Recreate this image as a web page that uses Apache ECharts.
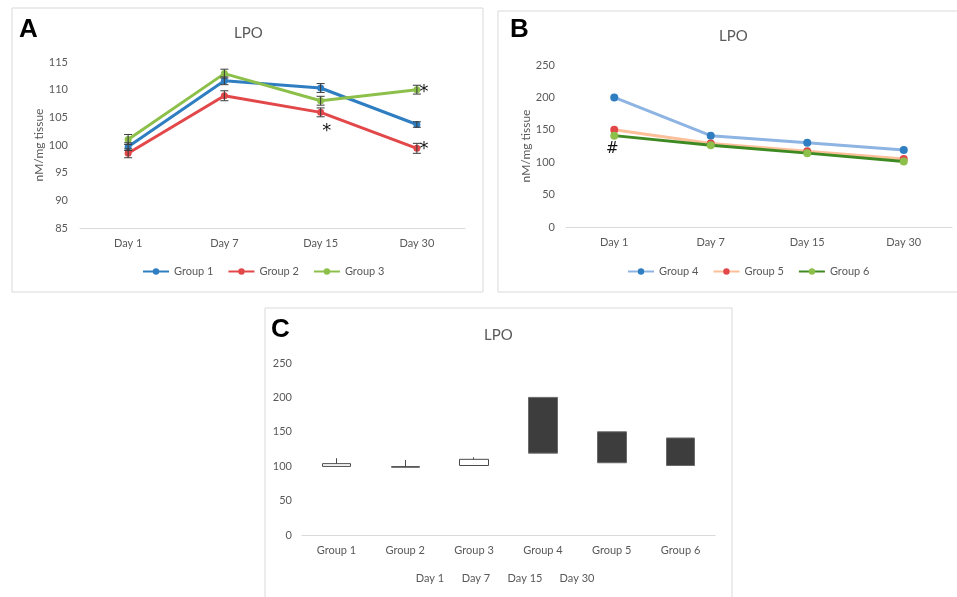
<!DOCTYPE html>
<html>
<head>
<meta charset="utf-8">
<script src="https://cdn.jsdelivr.net/npm/echarts@6/dist/echarts.min.js"></script>
<style>
html,body{margin:0;padding:0;background:#fff;}
#chart{width:957px;height:597px;}
</style>
</head>
<body>
<div id="chart"></div>
<script>
// ---- data ----
const days = ['Day 1', 'Day 7', 'Day 15', 'Day 30'];
const groupsC = ['Group 1', 'Group 2', 'Group 3', 'Group 4', 'Group 5', 'Group 6'];

const group1 = [99.7, 111.6, 110.3, 103.7];
const group1Err = [0.7, 0.7, 0.8, 0.5];
const group2 = [98.5, 108.9, 105.9, 99.4];
const group2Err = [0.8, 0.9, 0.8, 0.9];
const group3 = [101.0, 112.9, 108.0, 110.0];
const group3Err = [0.9, 0.8, 0.8, 0.8];

const group4 = [200, 141, 130, 119];
const group5 = [150, 129, 117, 105];
const group6 = [141, 126, 114, 101];

const axisA = { min: 85, max: 115, interval: 5 };
const axisB = { min: 0, max: 250, interval: 50 };
const axisC = { min: 0, max: 250, interval: 50 };

const titleText = 'LPO';
const yName = 'nM/mg tissue';
// ---------------

const FONT = 'Lato, "Open Sans", sans-serif';
const GREY = '#595959';

const colA = ['#2f7ec1', '#e2474a', '#8dc04b'];
const lineB = ['#8db4e2', '#fbbf99', '#3e8a22'];
const markB = ['#2f7ec1', '#e2474a', '#8dc04b'];

const allGroups = [group1, group2, group3, group4, group5, group6];
const candleData = allGroups.map(g => [g[0], g[3], Math.min(...g), Math.max(...g)]);

function errSeries(vals, errs, name) {
  return {
    type: 'custom', xAxisIndex: 0, yAxisIndex: 0, z: 5, silent: true,
    name: name + ' err',
    data: vals.map((v, i) => [i, v - errs[i], v + errs[i]]),
    renderItem: function (params, api) {
      const lo = api.coord([api.value(0), api.value(1)]);
      const hi = api.coord([api.value(0), api.value(2)]);
      const w = 4;
      const st = { stroke: '#3a3a3a', lineWidth: 1 };
      return {
        type: 'group',
        children: [
          { type: 'line', shape: { x1: lo[0], y1: lo[1], x2: hi[0], y2: hi[1] }, style: st },
          { type: 'line', shape: { x1: lo[0] - w, y1: lo[1], x2: lo[0] + w, y2: lo[1] }, style: st },
          { type: 'line', shape: { x1: hi[0] - w, y1: hi[1], x2: hi[0] + w, y2: hi[1] }, style: st }
        ]
      };
    }
  };
}

const markLabel = (txt, coord, offset, size) => ({
  coord: coord, symbol: 'circle', symbolSize: 2,
  itemStyle: { color: 'rgba(0,0,0,0)' },
  label: { show: true, position: 'inside', formatter: txt, color: '#111', fontSize: size,
           fontFamily: '"DejaVu Sans", sans-serif', offset: offset }
});

const axisLabelStyle = { color: GREY, fontSize: 11, fontFamily: FONT };

const chart = echarts.init(document.getElementById('chart'), null, { renderer: 'canvas' });

const option = {
  backgroundColor: '#fff',
  animation: false,
  textStyle: { fontFamily: FONT },
  graphic: [
    { type: 'rect', shape: { x: 12, y: 8, width: 471, height: 284 }, style: { fill: '#fff', stroke: '#d9d9d9', lineWidth: 1 }, z: -10 },
    { type: 'rect', shape: { x: 498, y: 11, width: 480, height: 281 }, style: { fill: '#fff', stroke: '#d9d9d9', lineWidth: 1 }, z: -10 },
    { type: 'rect', shape: { x: 265, y: 308, width: 467, height: 300 }, style: { fill: '#fff', stroke: '#d9d9d9', lineWidth: 1 }, z: -10 },
    { type: 'text', left: 19, top: 17, style: { text: 'A', font: 'bold 26px "Liberation Sans", Arial, sans-serif', fill: '#000' } },
    { type: 'text', left: 510, top: 17, style: { text: 'B', font: 'bold 26px "Liberation Sans", Arial, sans-serif', fill: '#000' } },
    { type: 'text', left: 271, top: 317, style: { text: 'C', font: 'bold 26px "Liberation Sans", Arial, sans-serif', fill: '#000' } },
    { type: 'text', x: 430, y: 578, style: { text: days[0], fill: GREY, font: '11px ' + FONT, align: 'center', verticalAlign: 'middle' } },
    { type: 'text', x: 476, y: 578, style: { text: days[1], fill: GREY, font: '11px ' + FONT, align: 'center', verticalAlign: 'middle' } },
    { type: 'text', x: 525, y: 578, style: { text: days[2], fill: GREY, font: '11px ' + FONT, align: 'center', verticalAlign: 'middle' } },
    { type: 'text', x: 577, y: 578, style: { text: days[3], fill: GREY, font: '11px ' + FONT, align: 'center', verticalAlign: 'middle' } }
  ],
  title: [
    { text: titleText, left: 229, top: 21, textStyle: { color: GREY, fontSize: 15, fontWeight: 'normal', fontFamily: FONT } },
    { text: titleText, left: 714, top: 24, textStyle: { color: GREY, fontSize: 15, fontWeight: 'normal', fontFamily: FONT } },
    { text: titleText, left: 479, top: 323, textStyle: { color: GREY, fontSize: 15, fontWeight: 'normal', fontFamily: FONT } }
  ],
  legend: [
    {
      left: 137, top: 261, itemWidth: 26, itemHeight: 8, itemGap: 14,
      data: ['Group 1', 'Group 2', 'Group 3'],
      textStyle: { color: GREY, fontSize: 11, fontFamily: FONT }
    },
    {
      left: 622, top: 261, itemWidth: 26, itemHeight: 8, itemGap: 14,
      data: ['Group 4', 'Group 5', 'Group 6'],
      textStyle: { color: GREY, fontSize: 11, fontFamily: FONT }
    }
  ],
  grid: [
    { left: 80, width: 385, top: 62, height: 166 },
    { left: 566, width: 386, top: 65, height: 162 },
    { left: 302, width: 413, top: 363, height: 172 }
  ],
  xAxis: [
    { gridIndex: 0, type: 'category', data: days, boundaryGap: true,
      axisLine: { lineStyle: { color: '#d9d9d9' } }, axisTick: { show: false },
      axisLabel: Object.assign({ margin: 10 }, axisLabelStyle) },
    { gridIndex: 1, type: 'category', data: days, boundaryGap: true,
      axisLine: { lineStyle: { color: '#d9d9d9' } }, axisTick: { show: false },
      axisLabel: Object.assign({ margin: 10 }, axisLabelStyle) },
    { gridIndex: 2, type: 'category', data: groupsC, boundaryGap: true,
      axisLine: { lineStyle: { color: '#d9d9d9' } }, axisTick: { show: false },
      axisLabel: Object.assign({ margin: 10 }, axisLabelStyle) }
  ],
  yAxis: [
    { gridIndex: 0, type: 'value', min: axisA.min, max: axisA.max, interval: axisA.interval,
      axisLine: { show: false }, axisTick: { show: false }, splitLine: { show: false },
      axisLabel: Object.assign({ margin: 12 }, axisLabelStyle),
      name: yName, nameLocation: 'middle', nameGap: 33, nameRotate: 90,
      nameTextStyle: { color: GREY, fontSize: 12, fontFamily: FONT } },
    { gridIndex: 1, type: 'value', min: axisB.min, max: axisB.max, interval: axisB.interval,
      axisLine: { show: false }, axisTick: { show: false }, splitLine: { show: false },
      axisLabel: Object.assign({ margin: 11 }, axisLabelStyle),
      name: yName, nameLocation: 'middle', nameGap: 33, nameRotate: 90,
      nameTextStyle: { color: GREY, fontSize: 12, fontFamily: FONT } },
    { gridIndex: 2, type: 'value', min: axisC.min, max: axisC.max, interval: axisC.interval,
      axisLine: { show: false }, axisTick: { show: false }, splitLine: { show: false },
      axisLabel: Object.assign({ margin: 10 }, axisLabelStyle) }
  ],
  series: [
    { name: 'Group 1', type: 'line', xAxisIndex: 0, yAxisIndex: 0, data: group1,
      symbol: 'circle', symbolSize: 7, lineStyle: { width: 3, color: colA[0] }, itemStyle: { color: colA[0] }, z: 3 },
    { name: 'Group 2', type: 'line', xAxisIndex: 0, yAxisIndex: 0, data: group2,
      symbol: 'circle', symbolSize: 7, lineStyle: { width: 3, color: colA[1] }, itemStyle: { color: colA[1] }, z: 3,
      markPoint: { silent: true, data: [
        markLabel('*', [2, group2[2]], [6, 19], 18),
        markLabel('*', [3, group2[3]], [7, 1], 18)
      ] } },
    { name: 'Group 3', type: 'line', xAxisIndex: 0, yAxisIndex: 0, data: group3,
      symbol: 'circle', symbolSize: 7, lineStyle: { width: 3, color: colA[2] }, itemStyle: { color: colA[2] }, z: 3,
      markPoint: { silent: true, data: [
        markLabel('*', [3, group3[3]], [7, 3], 18)
      ] } },
    errSeries(group1, group1Err, 'Group 1'),
    errSeries(group2, group2Err, 'Group 2'),
    errSeries(group3, group3Err, 'Group 3'),
    { name: 'Group 4', type: 'line', xAxisIndex: 1, yAxisIndex: 1, data: group4,
      symbol: 'circle', symbolSize: 8, lineStyle: { width: 3, color: lineB[0] }, itemStyle: { color: markB[0] }, z: 3 },
    { name: 'Group 5', type: 'line', xAxisIndex: 1, yAxisIndex: 1, data: group5,
      symbol: 'circle', symbolSize: 8, lineStyle: { width: 3, color: lineB[1] }, itemStyle: { color: markB[1] }, z: 3 },
    { name: 'Group 6', type: 'line', xAxisIndex: 1, yAxisIndex: 1, data: group6,
      symbol: 'circle', symbolSize: 8, lineStyle: { width: 3, color: lineB[2] }, itemStyle: { color: markB[2] }, z: 4,
      markPoint: { silent: true, data: [
        markLabel('#', [0, group6[0]], [-2, 13], 15)
      ] } },
    { name: 'LPO', type: 'candlestick', xAxisIndex: 2, yAxisIndex: 2, data: candleData, barWidth: 29,
      itemStyle: { color: '#ffffff', color0: '#3d3d3d', borderColor: '#4a4a4a', borderColor0: '#6a6a6a', borderWidth: 1 } }
  ]
};
chart.setOption(option);
</script>
</body>
</html>
